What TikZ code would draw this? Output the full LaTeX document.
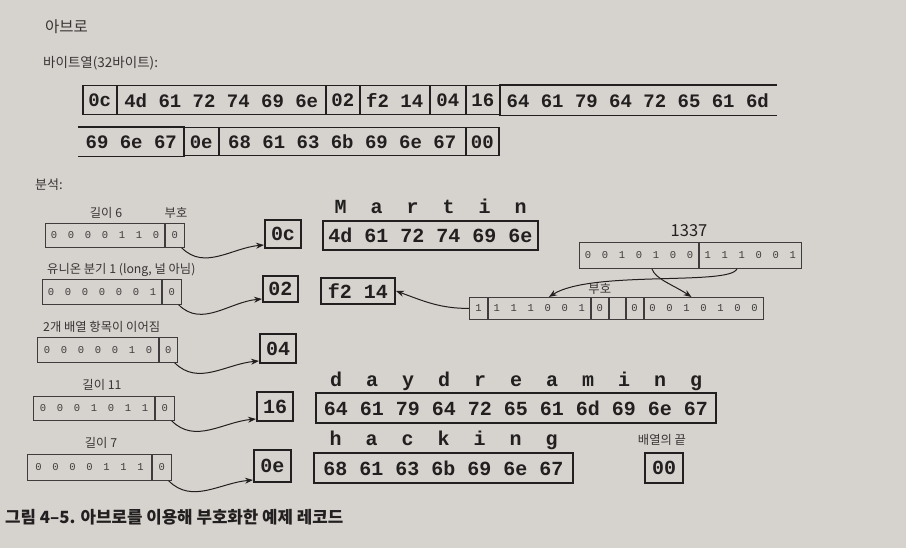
\documentclass[tikz,border=0pt]{standalone}
\usepackage{fontspec}
\newfontfamily\kr{Noto Sans CJK KR}
\newfontfamily\mono{Liberation Mono}
\usetikzlibrary{arrows.meta,calc}
\definecolor{bg}{RGB}{214,210,205}
\definecolor{ink}{RGB}{33,31,31}
\definecolor{ink2}{RGB}{62,60,60}
\definecolor{lblc}{RGB}{55,53,53}
\newcommand\bb[1]{\makebox[17pt]{#1}}
\newcommand\lets[5]{\foreach \ch [count=\i from 0] in {#5} \node[letter] at ($(#1.north)+({3*#3*(\i-(#2-1)/2)},#4)$) {\ch};}
\begin{document}
\begin{tikzpicture}[x=1pt,y=-1pt,
  hexrow/.style={draw=ink, line width=1.5pt, inner sep=0, anchor=north west,
    font=\mono\bfseries\fontsize{19}{19}\selectfont, text=ink},
  rowline/.style={draw=ink, line width=1.5pt},
  hexbox/.style={draw=ink, line width=2pt, inner sep=0, anchor=north west,
    font=\mono\bfseries\fontsize{20}{20}\selectfont, text=ink},
  bitcell/.style={draw=ink2, line width=0.9pt, inner sep=0,
    font=\mono\fontsize{10.5}{10.5}\selectfont, text=ink2},
  lbl/.style={font=\kr\fontsize{12.3}{12.3}\selectfont, text=lblc, inner sep=0},
  letter/.style={font=\mono\bfseries\fontsize{20}{20}\selectfont, text=ink, inner sep=0, anchor=base},
  arr/.style={draw=ink, line width=1pt, -{Stealth[length=8pt,width=6pt]}}
]
\fill[bg] (0,0) rectangle (906,548);
\useasboundingbox (0,0) rectangle (906,548);

% headings
\node[lbl, anchor=west, font=\kr\fontsize{15.5}{15.5}\selectfont] (tavro) at (45,27) {아브로};
\node[lbl, anchor=west, font=\kr\fontsize{13.5}{13.5}\selectfont] (tbytes) at (43,63) {바이트열(32바이트):};
\node[lbl, anchor=west, font=\kr\fontsize{13}{13}\selectfont] (tanal) at (35,185) {분석:};

% byte sequence, row 1
\node[hexrow, minimum width=34, minimum height=29] (r0c) at (82,85) {0c};
\node[hexrow, minimum width=209, minimum height=29] (rmar) at (116,85) {4d 61 72 74 69 6e};
\node[hexrow, minimum width=34, minimum height=29] (r02) at (325,85) {02};
\node[hexrow, minimum width=70, minimum height=29] (rf2) at (359,85) {f2 14};
\node[hexrow, minimum width=36, minimum height=29] (r04) at (429,85) {04};
\node[hexrow, minimum width=34, minimum height=29] (r16) at (465,85) {16};
\node[hexrow, draw=none, minimum width=276, minimum height=29] (rday) at (499,85) {64 61 79 64 72 65 61 6d};
\draw[rowline] (rday.north west) -- (rday.north east) (rday.south west) -- (rday.south east);

% byte sequence, row 2
\node[hexrow, draw=none, minimum width=105, minimum height=28] (ring) at (78,127) {69 6e 67};
\draw[rowline] (ring.north west) -- (ring.north east) (ring.south west) -- (ring.south east);
\node[hexrow, minimum width=35, minimum height=28] (r0e) at (183,127) {0e};
\node[hexrow, minimum width=247, minimum height=28] (rhack) at (218,127) {68 61 63 6b 69 6e 67};
\node[hexrow, minimum width=33, minimum height=28] (r00) at (465,127) {00};

% ---- analysis row A: length 6, Martin
\node[lbl] (la1) at (106,213) {길이 6};
\node[lbl] (la2) at (176,213) {부호};
\node[bitcell, minimum width=119, minimum height=24, anchor=north west] (A1) at (45,223) {\bb0\bb0\bb0\bb0\bb1\bb1\bb0};
\node[bitcell, minimum width=19, minimum height=24, anchor=west] (A2) at (A1.east) {0};
\node[hexbox, minimum width=36, minimum height=28] (h0c) at (264,219) {0c};
\node[hexbox, minimum width=215, minimum height=29] (hmar) at (322,220) {4d 61 72 74 69 6e};
\lets{hmar}{6}{12}{-6}{M,a,r,t,i,n}
\draw[arr] ([xshift=-3pt]A2.south east) to[out=-45,in=185] ([yshift=4pt]h0c.south west);

% ---- row B: union branch 1
\node[lbl, anchor=west] (lb) at (47,270) {유니온 분기 1 (long, 널 아님)};
\node[bitcell, minimum width=119, minimum height=25, anchor=north west] (B1) at (42,279) {\bb0\bb0\bb0\bb0\bb0\bb0\bb1};
\node[bitcell, minimum width=19, minimum height=25, anchor=west] (B2) at (B1.east) {0};
\node[hexbox, minimum width=35, minimum height=26] (h02) at (262,275) {02};
\node[hexbox, minimum width=74, minimum height=26] (hf2) at (320,277) {f2 14};
\draw[arr] ([xshift=-3pt]B2.south east) to[out=-45,in=185] ([yshift=4pt]h02.south west);

% ---- 1337 zigzag varint
\node[lbl, font=\kr\fontsize{16.5}{16.5}\selectfont, text=ink] (l1337) at (689,231) {1337};
\node[bitcell, minimum width=118, minimum height=26, anchor=north west] (C1) at (579,242) {\bb0\bb0\bb1\bb0\bb1\bb0\bb0};
\node[bitcell, minimum width=101, minimum height=26, anchor=west] (C2) at (C1.east) {\bb1\bb1\bb1\bb0\bb0\bb1};
\node[bitcell, minimum width=18, minimum height=22, anchor=north west] (L1) at (469,297) {1};
\node[bitcell, minimum width=102, minimum height=22, anchor=west] (L2) at (L1.east) {\bb1\bb1\bb1\bb0\bb0\bb1};
\node[bitcell, minimum width=17, minimum height=22, anchor=west] (L3) at (L2.east) {0};
\node[bitcell, minimum width=16, minimum height=22, anchor=west] (L4) at (L3.east) {};
\node[bitcell, minimum width=17, minimum height=22, anchor=west] (L5) at (L4.east) {0};
\node[bitcell, minimum width=119, minimum height=22, anchor=west] (L6) at (L5.east) {\bb0\bb0\bb1\bb0\bb1\bb0\bb0};
\node[lbl] (lsign) at (L3.north |- 0,289) {부호};
\coordinate (s1) at ($(C2.south west)+(38,0)$);
\coordinate (e1) at ($(L2.north west)+(61,0)$);
\coordinate (s2) at ($(C1.south west)+(73,0)$);
\coordinate (e2) at ($(L6.north west)+(48,0)$);
\draw[arr] (s1) .. controls +(-7,17) and +(42,-27) .. (e1);
\draw[arr] (s2) .. controls +(3,10) and +(-18,-12) .. (e2);
\draw[arr] (L1.west) to[out=180,in=-20] (hf2.east);

% ---- row C: 2 array items
\node[lbl, anchor=west] (lc) at (43,327) {2개 배열 항목이 이어짐};
\node[bitcell, minimum width=121, minimum height=25, anchor=north west] (D1) at (37,337) {\bb0\bb0\bb0\bb0\bb0\bb1\bb0};
\node[bitcell, minimum width=18, minimum height=25, anchor=west] (D2) at (D1.east) {0};
\node[hexbox, minimum width=36, minimum height=29] (h04) at (259,333) {04};
\draw[arr] ([xshift=-3pt]D2.south east) to[out=-45,in=185] ([yshift=3pt]h04.south west);

% ---- row D: length 11, daydreaming
\node[lbl] (ld) at (102,385) {길이 11};
\node[bitcell, minimum width=121, minimum height=24, anchor=north west] (E1) at (33,396) {\bb0\bb0\bb0\bb1\bb0\bb1\bb1};
\node[bitcell, minimum width=19, minimum height=24, anchor=west] (E2) at (E1.east) {0};
\node[hexbox, minimum width=36, minimum height=29] (h16) at (256,391) {16};
\node[hexbox, minimum width=400, minimum height=30] (hday) at (315,392) {64 61 79 64 72 65 61 6d 69 6e 67};
\lets{hday}{11}{12}{-6}{d,a,y,d,r,e,a,m,i,n,g}
\draw[arr] ([xshift=-3pt]E2.south east) to[out=-45,in=185] ([yshift=3pt]h16.south west);

% ---- row E: length 7, hacking, end of array
\node[lbl] (le) at (101,443) {길이 7};
\node[bitcell, minimum width=124, minimum height=26, anchor=north west] (F1) at (27,454) {\bb0\bb0\bb0\bb0\bb1\bb1\bb1};
\node[bitcell, minimum width=19, minimum height=26, anchor=west] (F2) at (F1.east) {0};
\node[hexbox, minimum width=37, minimum height=32] (h0e) at (253,449) {0e};
\node[hexbox, minimum width=259, minimum height=30] (hhack) at (313,452) {68 61 63 6b 69 6e 67};
\lets{hhack}{7}{12}{-7}{h,a,c,k,i,n,g}
\node[lbl] (lend) at (662,440) {배열의 끝};
\node[hexbox, minimum width=38, minimum height=30] (h00) at (644,452) {00};
\draw[arr] ([xshift=-3pt]F2.south east) to[out=-45,in=185] ([yshift=3pt]h0e.south west);

% caption
\node[anchor=west, inner sep=0, font=\kr\bfseries\fontsize{16.8}{16.8}\selectfont, text=ink] (cap) at (5,517) {그림 4–5. 아브로를 이용해 부호화한 예제 레코드};
\end{tikzpicture}
\end{document}
